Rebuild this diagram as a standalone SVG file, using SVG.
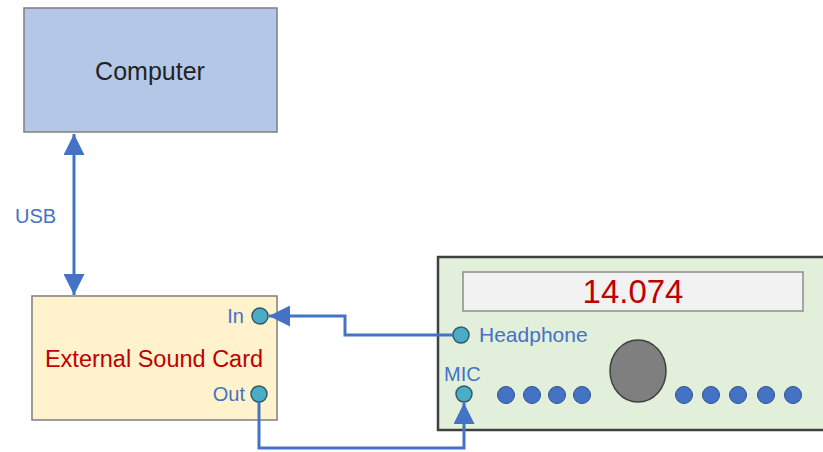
<svg xmlns="http://www.w3.org/2000/svg" width="823" height="452" viewBox="0 0 823 452">
<defs>
<style>
text{font-family:"Liberation Sans",Arial,sans-serif}
.lbl{fill:#4472c4;font-size:20px}
.wire{fill:none;stroke:#4472c4;stroke-width:3}
.jack{fill:#4bacc6;stroke:#31596a;stroke-width:1.5}
.btn{fill:#4472c4;stroke:#2f528f;stroke-width:1}
</style>
<marker id="ah" viewBox="0 0 10 10" refX="10" refY="5" markerWidth="7" markerHeight="7" markerUnits="strokeWidth" orient="auto-start-reverse">
<path d="M0,0 L10,5 L0,10 z" fill="#4472c4"/>
</marker>
</defs>
<rect width="823" height="452" fill="#ffffff"/>
<g id="computer">
<rect x="24" y="8" width="253" height="124" fill="#b4c7e7" stroke="#7f7f7f" stroke-width="1.5"/>
<text x="150" y="80" text-anchor="middle" font-size="25" fill="#222">Computer</text>
</g>
<g id="soundcard">
<rect x="32" y="296" width="245" height="124" fill="#fff2cc" stroke="#7f7f7f" stroke-width="1.5"/>
<text x="154" y="367" text-anchor="middle" font-size="23.5" fill="#c00000">External Sound Card</text>
<text x="244" y="323" text-anchor="end" class="lbl">In</text>
<text x="245" y="401" text-anchor="end" class="lbl">Out</text>
<circle cx="260" cy="316" r="8" class="jack"/>
<circle cx="259" cy="394" r="8" class="jack"/>
</g>
<g id="radio">
<rect x="438" y="257" width="400" height="173" fill="#e2efda" stroke="#404040" stroke-width="2.5"/>
<rect x="463" y="272" width="340" height="39" fill="#f2f2f2" stroke="#8c8c8c" stroke-width="1.5"/>
<text x="633" y="303" text-anchor="middle" font-size="33" fill="#c00000">14.074</text>
<text x="479" y="342" class="lbl" font-size="21" style="font-size:21px">Headphone</text>
<text x="444" y="381" class="lbl">MIC</text>
<ellipse cx="638" cy="371" rx="28" ry="31" fill="#7f7f7f" stroke="#404040" stroke-width="1.5"/>
<circle cx="506" cy="395" r="8.5" class="btn"/>
<circle cx="532" cy="395" r="8.5" class="btn"/>
<circle cx="557" cy="395" r="8.5" class="btn"/>
<circle cx="582" cy="395" r="8.5" class="btn"/>
<circle cx="684" cy="395" r="8.5" class="btn"/>
<circle cx="711" cy="395" r="8.5" class="btn"/>
<circle cx="738" cy="395" r="8.5" class="btn"/>
<circle cx="766" cy="395" r="8.5" class="btn"/>
<circle cx="793" cy="395" r="8.5" class="btn"/>
<circle cx="461" cy="335" r="8" class="jack"/>
<circle cx="464" cy="394" r="8" class="jack"/>
</g>
<g id="connectors">
<line x1="74" y1="134" x2="74" y2="295" class="wire" marker-start="url(#ah)" marker-end="url(#ah)"/>
<text x="15" y="223" class="lbl">USB</text>
<polyline points="453,335 345,335 345,316 269,316" class="wire" marker-end="url(#ah)"/>
<polyline points="259,402 259,448 464,448 464,403" class="wire" marker-end="url(#ah)"/>
</g>
</svg>
